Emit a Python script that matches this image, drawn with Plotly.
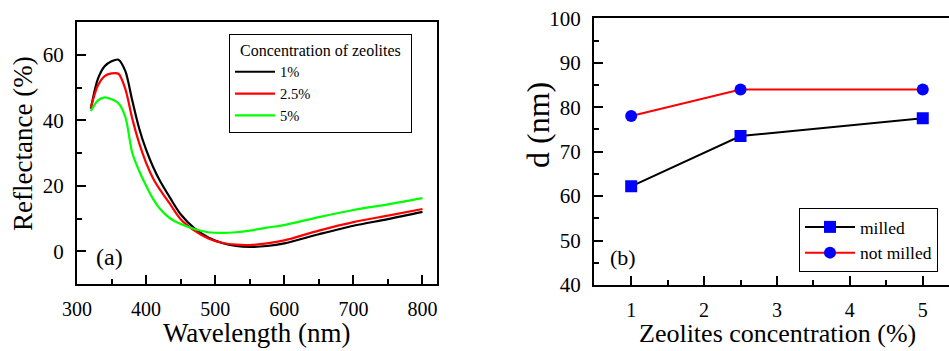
import plotly.graph_objects as go

# ---------------- data: panel (a) ----------------
wavelength = [320, 330, 340, 350, 360, 370, 380, 390, 400, 410, 420, 435, 450,
              470, 490, 510, 530, 550, 575, 600, 650, 700, 750, 800]
refl_1 = [43.5, 52.5, 56.5, 58.0, 58.5, 55.0, 46.0, 37.5, 31.0, 25.8, 21.5, 16.2, 11.3,
          7.0, 4.2, 2.5, 1.6, 1.3, 1.6, 2.4, 5.2, 7.8, 9.8, 12.0]
refl_25 = [43.8, 50.5, 53.5, 54.3, 54.2, 49.5, 40.5, 33.0, 27.0, 22.3, 18.8, 14.3, 9.8,
           6.3, 3.9, 2.6, 2.0, 1.9, 2.4, 3.3, 6.3, 8.9, 10.9, 12.9]
refl_5 = [42.8, 46.0, 47.0, 46.4, 45.2, 41.0, 30.0, 24.5, 20.0, 16.0, 13.0, 10.0, 8.3,
          6.8, 5.8, 5.6, 5.8, 6.3, 7.2, 8.0, 10.4, 12.6, 14.3, 16.2]
series_a = ["1%", "2.5%", "5%"]
legend_a_title = "Concentration of zeolites"

# ---------------- data: panel (b) ----------------
conc = [1, 2.5, 5]
d_milled = [62.2, 73.5, 77.5]
d_not_milled = [78.0, 84.0, 84.0]
series_b = ["milled", "not milled"]

FONT = "Liberation Serif, Times New Roman, serif"
W, H = 949, 351

def px_x(p):
    return p / W

def px_y(p):
    return (H - p) / H

fig = go.Figure()

colors_a = ["#000000", "#ff0000", "#00ff00"]
for name, vals, c in zip(series_a, [refl_1, refl_25, refl_5], colors_a):
    fig.add_trace(go.Scatter(
        x=wavelength, y=vals, mode="lines", name=name,
        line=dict(color=c, width=2.2, shape="spline", smoothing=0.8),
        xaxis="x", yaxis="y", legend="legend"))

fig.add_trace(go.Scatter(
    x=conc, y=d_milled, mode="lines+markers", name=series_b[0],
    line=dict(color="black", width=2),
    marker=dict(symbol="square", size=12, color="#0000ff"),
    xaxis="x2", yaxis="y2", legend="legend2"))
fig.add_trace(go.Scatter(
    x=conc, y=d_not_milled, mode="lines+markers", name=series_b[1],
    line=dict(color="#ff0000", width=2),
    marker=dict(symbol="circle", size=12, color="#0000ff"),
    xaxis="x2", yaxis="y2", legend="legend2"))

axis_common = dict(
    showgrid=False, zeroline=False, showline=True, linecolor="black", linewidth=2,
    ticks="inside", tickcolor="black", tickwidth=2, ticklen=9, automargin=False,
    tickfont=dict(family=FONT, size=20, color="black"),
)

fig.update_layout(
    width=W, height=H, autosize=False,
    margin=dict(l=0, r=0, t=0, b=0, pad=0, autoexpand=False),
    paper_bgcolor="white", plot_bgcolor="white",
    font=dict(family=FONT, color="black"),
    xaxis=dict(axis_common, domain=[px_x(77), px_x(437)], range=[300, 821],
               dtick=100, tick0=300, mirror=True, anchor="y", ticklabelstandoff=6,
               minor=dict(ticks="inside", ticklen=5, tickwidth=2, tickcolor="black", dtick=50, tick0=300)),
    yaxis=dict(axis_common, domain=[px_y(284), px_y(22)], range=[-10, 70],
               dtick=20, tick0=0, mirror=True, anchor="x", ticklabelstandoff=7,
               tickfont=dict(family=FONT, size=21, color="black"),
               minor=dict(ticks="inside", ticklen=5, tickwidth=2, tickcolor="black", dtick=10, tick0=0)),
    xaxis2=dict(axis_common, domain=[px_x(594), 1.0], range=[0.49, 5.36],
                dtick=1, tick0=1, mirror=True, anchor="y2", ticklabelstandoff=6,
                minor=dict(ticks="inside", ticklen=5, tickwidth=2, tickcolor="black", dtick=0.5, tick0=1)),
    yaxis2=dict(axis_common, domain=[px_y(285), px_y(18.3)], range=[40, 100],
                dtick=10, tick0=40, mirror=False, anchor="x2", ticklabelstandoff=7,
                tickfont=dict(family=FONT, size=21, color="black"),
                minor=dict(ticks="inside", ticklen=5, tickwidth=2, tickcolor="black", dtick=5, tick0=40)),
    legend=dict(
        x=px_x(229), y=px_y(34), xanchor="left", yanchor="top",
        bordercolor="black", borderwidth=1, bgcolor="white",
        title=dict(text="\u00a0\u00a0" + legend_a_title + "\u00a0\u00a0",
                   font=dict(family=FONT, size=16, color="black")),
        font=dict(family=FONT, size=14.5, color="black"),
        itemwidth=40,
        tracegroupgap=0,
    ),
    legend2=dict(
        x=px_x(799), y=px_y(208), xanchor="left", yanchor="top",
        bordercolor="black", borderwidth=1, bgcolor="white",
        font=dict(family=FONT, size=17.5, color="black"),
        itemwidth=50,
        tracegroupgap=0,
    ),
    showlegend=True,
)

annots = [
    dict(text="(a)", x=px_x(109), y=px_y(257), size=24, angle=0, ya="middle"),
    dict(text="(b)", x=px_x(623), y=px_y(257), size=22, angle=0, ya="middle"),
    dict(text="Wavelength (nm)", x=px_x(257), y=0.002, size=27, angle=0, ya="bottom"),
    dict(text="Reflectance (%)", x=px_x(23), y=px_y(144), size=27, angle=-90, ya="middle"),
    dict(text="d (nm)", x=px_x(538), y=px_y(125), size=32, angle=-90, ya="middle"),
    dict(text="Zeolites concentration (%)", x=px_x(777.5), y=0.002, size=26, angle=0, ya="bottom"),
]
for a in annots:
    fig.add_annotation(
        text=a["text"], x=a["x"], y=a["y"], xref="paper", yref="paper",
        xanchor="center", yanchor=a["ya"], showarrow=False, textangle=a["angle"],
        font=dict(family=FONT, size=a["size"], color="black"))

fig.write_html("out.html")
